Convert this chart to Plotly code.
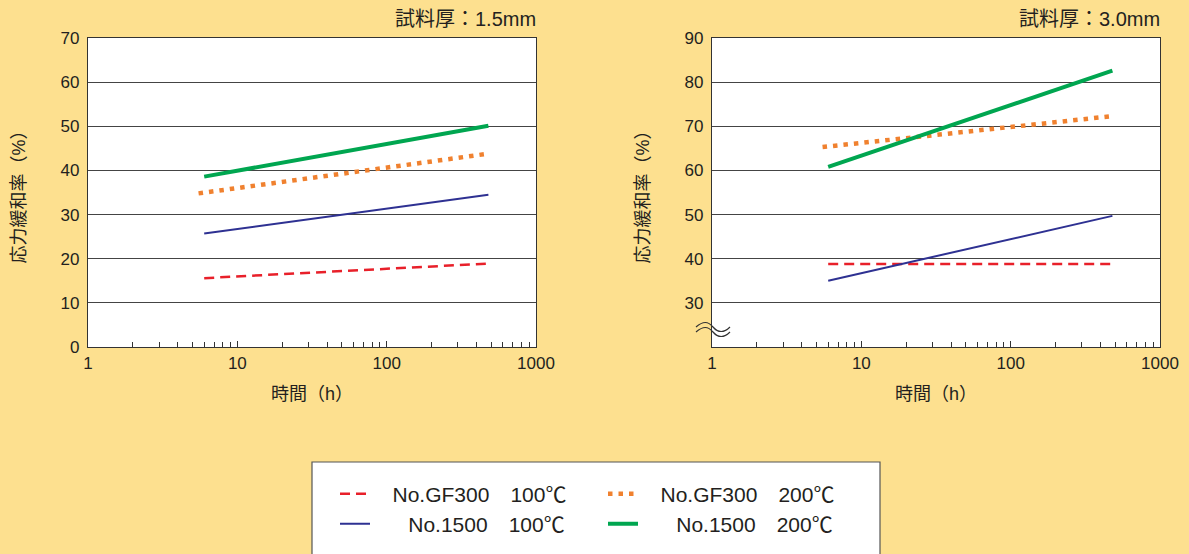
import plotly.graph_objects as go

W, H = 1189, 554

# ---- data ----
hours_a = [6, 480]          # start / end of measured period (h)
hours_b = [5.5, 480]        # GF300 200C starts slightly earlier
left_gf300_100 = [15.6, 18.9]
left_gf300_200 = [34.8, 43.8]
left_1500_100 = [25.7, 34.5]
left_1500_200 = [38.6, 50.1]
right_gf300_100 = [38.8, 38.8]
right_gf300_200 = [65.3, 72.3]
right_1500_100 = [35.0, 49.7]
right_1500_200 = [60.8, 82.6]

names = ["\u2002\u2004No.GF300\u3000100\u2103", "\u2002\u2004No.GF300\u3000200\u2103",
         "\u2003\u2002\u200aNo.1500\u3000100\u2103", "\u2003\u2002\u200aNo.1500\u3000200\u2103"]
left_ticks = [0, 10, 20, 30, 40, 50, 60, 70]
right_ticks = [30, 40, 50, 60, 70, 80, 90]
x_ticks = [1, 10, 100, 1000]
titles = ["試料厚：1.5mm", "試料厚：3.0mm"]

FONT = "Liberation Sans, Noto Sans CJK JP"
TXT = "#231F20"
BG = "#FDE08F"
styles = [
    dict(color="#E8202A", width=2.5, dash="10px,6px"),
    dict(color="#F0812F", width=4.5, dash="4.5px,6px"),
    dict(color="#2E3192", width=2, dash="solid"),
    dict(color="#00A650", width=4, dash="solid"),
]
legend_of = ["legend", "legend", "legend2", "legend2"]

fig = go.Figure()
left_sets = [(hours_a, left_gf300_100), (hours_b, left_gf300_200), (hours_a, left_1500_100), (hours_a, left_1500_200)]
right_sets = [(hours_a, right_gf300_100), (hours_b, right_gf300_200), (hours_a, right_1500_100), (hours_a, right_1500_200)]
for i, (hx, vy) in enumerate(left_sets):
    fig.add_trace(go.Scatter(x=hx, y=vy, mode="lines", name=names[i], line=styles[i],
                             xaxis="x", yaxis="y", legend=legend_of[i], showlegend=True))
for i, (hx, vy) in enumerate(right_sets):
    fig.add_trace(go.Scatter(x=hx, y=vy, mode="lines", name=names[i], line=styles[i],
                             xaxis="x2", yaxis="y2", showlegend=False))

def px_x(p):
    return p / W

def px_y(p):
    return 1 - p / H

ydom = [px_y(347), px_y(38)]
xdom1 = [px_x(88), px_x(536)]
xdom2 = [px_x(712), px_x(1160)]

xax = dict(type="log", range=[0, 3], tickvals=x_ticks, ticktext=[str(v) for v in x_ticks],
           ticks="inside", ticklen=6, tickcolor="#333", showgrid=False, zeroline=False,
           showline=True, linecolor="#333", linewidth=1.2, mirror=True, automargin=False,
           minor=dict(ticks="inside", ticklen=5, tickcolor="#333", dtick="D1", showgrid=False),
           tickfont=dict(family=FONT, size=17, color=TXT),
           title=dict(text="時間（h）", font=dict(family=FONT, size=18, color=TXT), standoff=15))
yax = dict(ticks="", showgrid=True, gridcolor="#444", gridwidth=1, zeroline=False,
           showline=True, linecolor="#333", linewidth=1.2, mirror=True, automargin=False,
           tickfont=dict(family=FONT, size=17, color=TXT), ticklabelstandoff=4,
           title=dict(text="応力緩和率（%）", font=dict(family=FONT, size=18, color=TXT), standoff=30))

fig.update_layout(
    width=W, height=H, margin=dict(l=0, r=0, t=0, b=0, autoexpand=False),
    paper_bgcolor=BG, plot_bgcolor="white",
    font=dict(family=FONT, color=TXT),
    xaxis=dict(xax, domain=xdom1, anchor="y"),
    yaxis=dict(yax, domain=ydom, anchor="x", range=[0, 70], tickvals=left_ticks),
    xaxis2=dict(xax, domain=xdom2, anchor="y2"),
    yaxis2=dict(yax, domain=ydom, anchor="x2", range=[20, 90], tickvals=right_ticks),
    legend=dict(orientation="h", x=px_x(335), xanchor="left", y=px_y(494), yanchor="middle",
                bgcolor="rgba(0,0,0,0)", borderwidth=0, entrywidth=223,
                font=dict(family=FONT, size=21, color=TXT), itemclick=False),
    legend2=dict(orientation="h", x=px_x(335), xanchor="left", y=px_y(524), yanchor="middle",
                 bgcolor="rgba(0,0,0,0)", borderwidth=0, entrywidth=223,
                 font=dict(family=FONT, size=21, color=TXT), itemclick=False),
)

# titles
for xr, t in zip(["x domain", "x2 domain"], titles):
    fig.add_annotation(text=t, xref=xr, yref="paper", x=1.005, y=px_y(19), xanchor="right",
                       yanchor="middle", showarrow=False, font=dict(family=FONT, size=20, color=TXT))

# legend box
fig.add_shape(type="rect", xref="paper", yref="paper", x0=px_x(312), x1=px_x(880),
              y0=px_y(560), y1=px_y(462), fillcolor="white", line=dict(color="#555", width=1.2),
              layer="below")

# axis-break symbol on right chart
def wave(x0, yc):
    return (f"M{px_x(x0)},{px_y(yc)} "
            f"C{px_x(x0+7)},{px_y(yc-6)} {px_x(x0+12)},{px_y(yc-6)} {px_x(x0+17)},{px_y(yc)} "
            f"S{px_x(x0+28)},{px_y(yc+6)} {px_x(x0+34)},{px_y(yc)}")
for yc in (327, 332):
    fig.add_shape(type="path", xref="paper", yref="paper", path=wave(696, yc),
                  line=dict(color="#333", width=1.2))

fig.write_html("out.html")
